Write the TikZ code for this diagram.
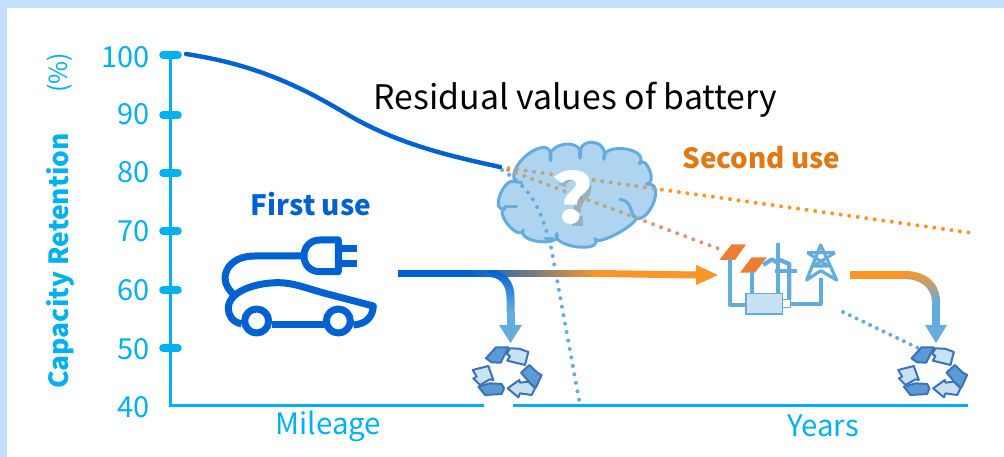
\documentclass[tikz,border=0pt]{standalone}
\usepackage{fontspec}
\setmainfont{Noto Sans CJK JP}
\usetikzlibrary{arrows.meta}
\definecolor{frameblue}{RGB}{196,224,255}
\definecolor{axiscol}{RGB}{0,176,240}
\definecolor{darkb}{RGB}{0,98,210}
\definecolor{softb}{RGB}{100,172,222}
\definecolor{orangea}{RGB}{250,150,40}
\definecolor{orangeb}{RGB}{224,120,20}
\definecolor{panel}{RGB}{237,125,49}
\definecolor{cloudf}{RGB}{174,212,240}
\definecolor{paleb}{RGB}{200,225,245}
\definecolor{midb}{RGB}{91,155,213}
\definecolor{edgeb}{RGB}{60,115,180}
\definecolor{pinkdot}{RGB}{215,150,125}
\definecolor{mutedot}{RGB}{190,165,130}
\tikzset{
  axisline/.style={axiscol,line width=3.5pt},
  tickmark/.style={axiscol,line width=7.5pt,line cap=round},
  ticklabel/.style={axiscol,font=\fontsize{29}{29}\selectfont,anchor=east,inner sep=0},
  axislabel/.style={axiscol,font=\fontsize{29.5}{29.5}\selectfont,inner sep=0},
  dots/.style={line width=4pt,line cap=round,dash pattern=on 0pt off 8.6pt},
  iconline/.style={darkb,line width=7pt,line join=round},
  plantline/.style={softb,line width=4.2pt,line join=round},
  towerline/.style={softb,line width=3.2pt,line join=round},
  recdark/.style={fill=midb,draw=edgeb,line width=2pt,line join=round},
  reclight/.style={fill=paleb,draw=edgeb,line width=2pt,line join=round},
  cloudedge/.style={softb,line width=3pt,line cap=round},
}
\newcommand{\cloudpath}{(105,125) .. controls (75,70) and (226,-35) .. (212,62) .. controls (192,5) and (320,-10) .. (300,55) .. controls (286,-12) and (388,-8) .. (372,58) .. controls (360,5) and (512,22) .. (478,72) .. controls (495,40) and (535,130) .. (500,132) .. controls (565,125) and (498,270) .. (460,228) .. controls (507,234) and (346,327) .. (345,295) .. controls (372,342) and (211,321) .. (230,280) .. controls (250,322) and (110,308) .. (130,270) .. controls (118,307) and (41,216) .. (75,205) .. controls (29,221) and (71,109) .. (105,125) -- cycle}
\newcommand{\recycleicon}{%
  \path[recdark] (78,85) -- (108,52) -- (145,52) -- (122,98) -- (95,97) -- cycle;
  \path[reclight] (140,72) -- (150,55) -- (178,56) -- (205,66) -- (195,105) -- (142,92) -- (150,78) -- cycle;
  \path[recdark] (183,128) -- (208,105) -- (232,128) -- (245,135) -- (228,172) -- (215,165) -- cycle;
  \path[reclight] (143,175) -- (178,150) -- (180,158) -- (205,155) -- (225,175) -- (215,195) -- (180,190) -- (175,202) -- cycle;
  \path[reclight] (38,120) -- (85,108) -- (100,150) -- (90,148) -- (60,165) -- (40,145) -- (50,140) -- cycle;
  \path[recdark] (55,170) -- (90,160) -- (125,162) -- (132,175) -- (125,192) -- (75,195) -- cycle;
}
\begin{document}
\begin{tikzpicture}[x=1pt,y=-1pt]
\useasboundingbox (0,0) rectangle (1004,457);
\fill[frameblue] (0,0) rectangle (1004,457);
\fill[white] (7,8) rectangle (1004,457);

% axes
\coordinate (ytop) at (170.5,54);
\coordinate (orig) at (170.5,405.5);
\coordinate (xa) at (484,405.5);
\coordinate (xb) at (513,405.5);
\coordinate (xc) at (968,405.5);
\draw[axisline] (ytop) -- (orig) -- (xa);
\draw[axisline] (xb) -- (xc);
\foreach \yy in {55,115,173,231,290,348}
  \draw[tickmark] (163,\yy) -- (178,\yy);
\node[ticklabel] (t100) at (150,57) {100};
\node[ticklabel] (t90) at (150,114) {90};
\node[ticklabel] (t80) at (150,172) {80};
\node[ticklabel] (t70) at (150,231) {70};
\node[ticklabel] (t60) at (150,290) {60};
\node[ticklabel] (t50) at (150,349) {50};
\node[ticklabel] (t40) at (150,407) {40};
\node[axislabel,rotate=90,font=\fontsize{26.4}{26.4}\selectfont\bfseries] (ylab) at (60,261) {Capacity Retention};
\node[axislabel,rotate=90,font=\fontsize{25}{25}\selectfont] (pct) at (60,73) {(\%)};
\node[axislabel] (mile) at (328.5,426) {Mileage};
\node[axislabel] (yrs) at (823,426) {Years};

% dotted projections
\coordinate (knee) at (500,167);
\coordinate (oend) at (972,233);
\coordinate (pend) at (722,250);
\coordinate (bend) at (580,405);
\coordinate (bs) at (502,170);
\coordinate (bc1) at (530,188);
\coordinate (bc2) at (540,205);
\coordinate (bm) at (551,247);
\coordinate (rdotA) at (843,312);
\coordinate (rdotB) at (918,348);
\newcommand{\orangepath}{(knee) -- (oend)}
\newcommand{\pinkpath}{(knee) -- (pend)}
\newcommand{\bluepath}{(bs) .. controls (bc1) and (bc2) .. (bm) -- (bend)}
\draw[dots,softb] \bluepath;
\draw[dots,orangea] \orangepath;
\draw[dots,pinkdot] \pinkpath;

% cloud
\begin{scope}[shift={(480,140)},scale=0.33333]
  \draw[fill=cloudf,draw=softb,line width=3pt,line join=round] \cloudpath;
  \begin{scope}
    \clip \cloudpath;
    \draw[dots,softb] \bluepath;
    \draw[dots,mutedot] \orangepath;
    \draw[dots,mutedot] \pinkpath;
  \end{scope}
  \draw[cloudedge] (420,178) .. controls (445,185) .. (460,228);
  \draw[cloudedge] (75,200) -- (110,200);
  \draw[cloudedge] (195,295) -- (218,295);
  \draw[cloudedge] (105,125) -- (125,128);
\end{scope}

% residual curve
\coordinate (cstart) at (186,54);
\draw[darkb,line width=4.4pt,line cap=round] (cstart) .. controls (245,63) and (290,80) .. (345,113) .. controls (395,143) and (445,155) .. (knee);

% question mark shadow + mark
\draw[black!45,line width=7pt,opacity=.5] (562,186) .. controls (564,173) and (588,173) .. (588,187) .. controls (588,198) and (577,198) .. (577,212);
\fill[black!45,opacity=.5] (572,216) rectangle (583,226);
\node[white,font=\fontsize{68}{68}\selectfont\bfseries,inner sep=0,xscale=1.2] (qm) at (572,197) {?};

% texts
\node[black,font=\fontsize{33.8}{33.8}\selectfont,inner sep=0] (title) at (575.5,100) {Residual values of battery};
\node[orangeb,font=\fontsize{27.8}{27.8}\selectfont\bfseries,inner sep=0] (second) at (761.5,158) {Second use};
\node[darkb,font=\fontsize{28}{28}\selectfont\bfseries,inner sep=0] (first) at (311,204) {First use};

% car icon
\begin{scope}[shift={(200,220)},scale=0.33333]
  \draw[iconline] (305,108) -- (165,108) .. controls (100,108) and (75,145) .. (75,175) .. controls (75,195) and (90,215) .. (105,227);
  \draw[iconline] (415,60) -- (360,60) .. controls (330,60) and (312,82) .. (312,108) .. controls (312,134) and (330,155) .. (360,155) -- (415,155) -- cycle;
  \draw[iconline] (415,85) -- (472,85);
  \draw[iconline] (415,130) -- (472,130);
  \draw[iconline] (125,312) .. controls (95,305) and (85,285) .. (85,265) .. controls (85,215) and (165,188) .. (235,188) .. controls (280,188) and (320,205) .. (375,220) -- (520,258) .. controls (518,290) and (500,312) .. (460,315);
  \draw[iconline] (215,313) -- (372,313);
  \draw[iconline] (170,303) circle (36);
  \draw[iconline] (415,303) circle (36);
\end{scope}

% main arrow
\coordinate (astart) at (398,273.5);
\coordinate (aend) at (718,275);
\fill[darkb] (398,270) rectangle (471,277);
\foreach \i in {0,...,64}{
  \pgfmathtruncatemacro{\pc}{100-\i*100/64}
  \fill[darkb!\pc!orangea] (470+2*\i,270) rectangle (472.4+2*\i,277);
}
\fill[orangea] (600,270) -- (697,271.5) -- (697,278.5) -- (600,277) -- cycle;
\fill[orangea] (696,265) -- (aend) -- (696,285) -- cycle;

% left branch
\coordinate (ltip) at (510.5,343);
\shade[top color=darkb,bottom color=softb] (488,270) .. controls (505,270) and (514.5,280) .. (514.5,298) -- (514.5,312) -- (506.5,312) -- (506.5,298) .. controls (506.5,285) and (500,277) .. (488,277) -- cycle;
\fill[softb] (506.5,311.5) rectangle (514.5,327);
\fill[softb] (499,325) -- (522,325) -- (ltip) -- cycle;

% right branch
\coordinate (rstart) at (850,275);
\coordinate (rtip) at (936,343);
\fill[orangea] (850,271) rectangle (906,279);
\shade[top color=orangea,bottom color=softb] (905,271) .. controls (925,271) and (940,282) .. (940,302) -- (932,302) .. controls (932,288) and (920,279) .. (905,279) -- cycle;
\fill[softb] (932,301.5) rectangle (940,327);
\fill[softb] (925,325) -- (947,325) -- (rtip) -- cycle;

% right dotted
\draw[dots,softb,dash pattern=on 0pt off 7.5pt] (rdotA) -- (rdotB);

% plant icon
\begin{scope}[shift={(700,230)},scale=0.33333]
  \fill[panel] (58,90) -- (95,43) -- (138,43) -- (105,90) -- cycle;
  \fill[panel] (120,128) -- (155,82) -- (200,82) -- (165,128) -- cycle;
  \draw[plantline] (90,88) -- (90,225) -- (140,225);
  \draw[plantline] (155,125) -- (155,190);
  \draw[plantline] (235,40) -- (235,190);
  \draw[plantline] (190,105) -- (215,88) -- (235,100);
  \draw[plantline] (235,88) -- (268,102) -- (268,208);
  \draw[plantline] (225,122) -- (290,122);
  \draw[plantline] (272,222) -- (362,222) -- (362,145);
  \draw[fill=paleb,draw=softb,line width=1.6pt] (138,190) rectangle (248,252);
  \draw[fill=white,draw=softb,line width=1.6pt] (248,208) rectangle (272,232);
  \draw[towerline] (322,68) -- (405,68);
  \draw[towerline] (362,45) -- (320,150) -- (362,122) -- (410,150) -- cycle;
  \draw[towerline] (322,68) -- (385,108) -- (340,108) -- (405,68);
\end{scope}

% recycle icons
\begin{scope}[shift={(460,330)},scale=0.33333]
  \recycleicon
\end{scope}
\begin{scope}[shift={(885.5,330)},scale=0.33333]
  \recycleicon
\end{scope}
\end{tikzpicture}
\end{document}
